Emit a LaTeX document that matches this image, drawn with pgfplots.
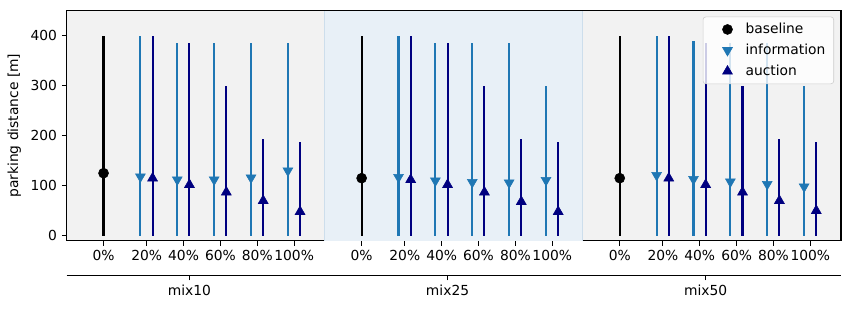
\documentclass[border=0pt]{standalone}
\usepackage{fontspec}
\setmainfont{DejaVu Sans}
\usepackage{pgfplots}
\usepackage{pgfplotstable}
\pgfplotsset{compat=1.18}
\definecolor{infoc}{RGB}{31,119,180}
\definecolor{aucc}{RGB}{0,0,128}
\definecolor{bgg}{RGB}{242,242,242}
\definecolor{bgb}{RGB}{232,240,247}
\definecolor{bgbe}{RGB}{205,222,236}

\pgfplotstableread{
x y top
0 125 400
7 115 400
14 115 400
}\baselinedata

\pgfplotstableread{
x y top
1 118 400
2 112 385
3 112 385
4 116 385
5 130 385
8 117 400
9 110 385
10 107 385
11 106 385
12 111 300
15 121 400
16 113 390
17 108 385
18 103 385
19 98 300
}\infodata

\pgfplotstableread{
x y top
1.33 115 400
2.33 102 385
3.33 87 300
4.33 70 193
5.33 48 188
8.33 112 400
9.33 102 385
10.33 87 300
11.33 68 193
12.33 48 188
15.33 115 400
16.33 102 385
17.33 87 300
18.33 70 193
19.33 50 188
}\aucdata

\begin{document}
\begin{tikzpicture}
\useasboundingbox (-48.0bp,-49.2bp) rectangle (564.0bp,173.28bp);
\begin{axis}[
  scale only axis, width=557.5bp, height=165.6bp,
  at={(0,0)}, anchor=south west,
  xmin=-1, xmax=20, ymin=-10, ymax=450,
  axis background/.style={fill=bgg},
  xtick={0,1.17,2.17,3.17,4.17,5.17,7,8.17,9.17,10.17,11.17,12.17,14,15.17,16.17,17.17,18.17,19.17},
  xticklabels={0\%,20\%,40\%,60\%,80\%,100\%,0\%,20\%,40\%,60\%,80\%,100\%,0\%,20\%,40\%,60\%,80\%,100\%},
  ytick={0,100,200,300,400},
  tick align=outside, tick pos=left,
  major tick length=3.5bp,
  tick style={black, line width=0.8bp},
  axis line style={line width=0.8bp},
  ylabel={parking distance [m]},
  ylabel style={font=\fontsize{10}{12}\selectfont},
  /pgf/number format/assume math mode=true,
  tick label style={font=\fontsize{10}{12}\selectfont},
  legend style={at={(0.991,0.974)}, anchor=north east, draw=black!20,
    rounded corners=2bp, fill=white, fill opacity=0.8, text opacity=1,
    font=\fontsize{10}{12}\selectfont, row sep=2bp, column sep=0bp,
    inner xsep=4bp, inner ysep=2.5bp},
  legend cell align=left,
  legend image code/.code={%
    \path[draw=none, fill=none] (0bp,0bp) -- (24.6bp,0bp);
    \draw[mark repeat=2, mark phase=2, #1, only marks, fill opacity=1, draw opacity=1] plot coordinates {(0bp,0bp) (13.6bp,0bp) (24.6bp,0bp)};},
]
\fill[bgb] (axis cs:6,-10) rectangle (axis cs:13,450);
\draw[bgbe, line width=0.8bp] (axis cs:6,-10) -- (axis cs:6,450) (axis cs:13,-10) -- (axis cs:13,450);

\addplot[only marks, mark=*, black, mark size=3.6bp,
  error bars/.cd, y dir=both, y explicit, error mark=none,
  error bar style={line width=1.5bp, black}]
  table[x=x, y=y, y error plus expr=\thisrow{top}-\thisrow{y}, y error minus expr=\thisrow{y}] {\baselinedata};
\addlegendentry{baseline}

\addplot[only marks, mark=triangle*, infoc, mark size=4.1bp, mark options={rotate=180},
  error bars/.cd, y dir=both, y explicit, error mark=none,
  error bar style={line width=1.5bp, infoc}]
  table[x=x, y=y, y error plus expr=\thisrow{top}-\thisrow{y}, y error minus expr=\thisrow{y}] {\infodata};
\addlegendentry{information}

\addplot[only marks, mark=triangle*, aucc, mark size=4.1bp,
  error bars/.cd, y dir=both, y explicit, error mark=none,
  error bar style={line width=1.5bp, aucc}]
  table[x=x, y=y, y error plus expr=\thisrow{top}-\thisrow{y}, y error minus expr=\thisrow{y}] {\aucdata};
\addlegendentry{auction}
\end{axis}

\begin{axis}[
  scale only axis, width=557.5bp, height=10bp,
  at={(0,-25.1bp)}, anchor=south west,
  xmin=-1, xmax=20, ymin=0, ymax=1,
  axis y line=none, axis x line*=bottom,
  x axis line style={-, line width=0.8bp},
  xtick={2.33,9.33,16.33}, xticklabels={mix10,mix25,mix50},
  tick align=outside, major tick length=3.5bp,
  tick style={black, line width=0.8bp},
  tick label style={font=\fontsize{10}{12}\selectfont},
]
\addplot[draw=none, forget plot] coordinates {(0,0)};
\end{axis}
\end{tikzpicture}
\end{document}
